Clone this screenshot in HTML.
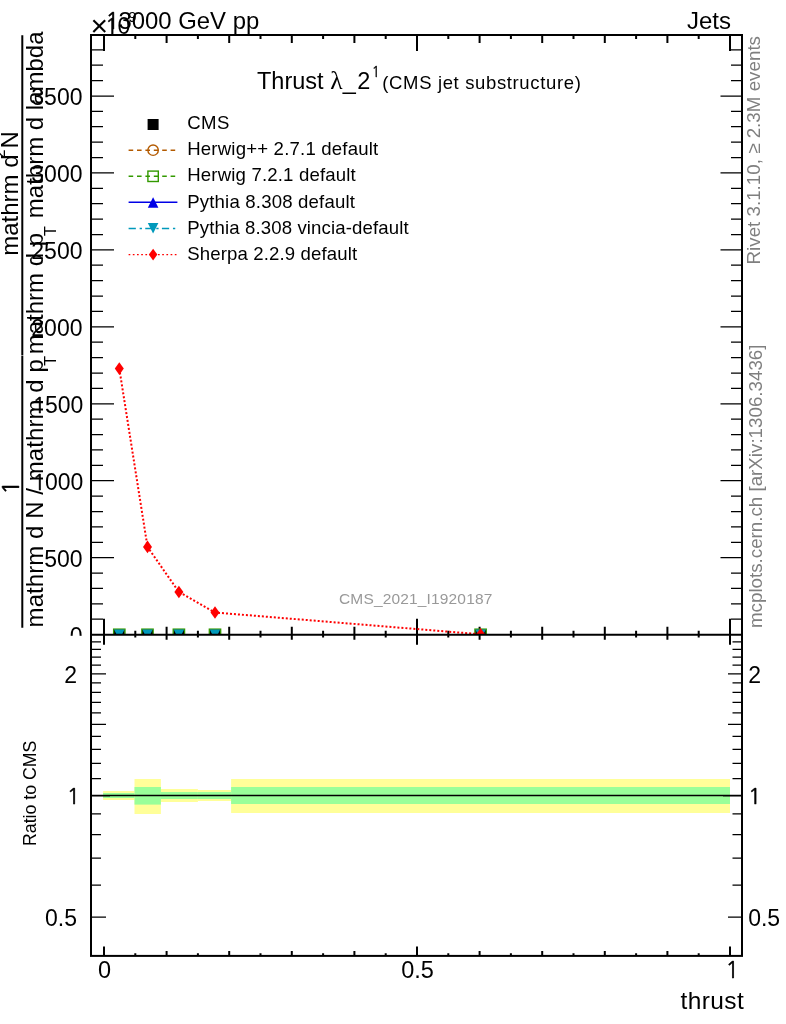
<!DOCTYPE html>
<html lang="en"><head><meta charset="utf-8"><title>Thrust - CMS jet substructure</title>
<style>html,body{margin:0;padding:0;background:#fff}body{width:786px;height:1024px;overflow:hidden}svg{display:block}text{font-family:"Liberation Sans",sans-serif;fill:#000}.g{fill:#7f7f7f}.g2{fill:#999}</style>
</head><body>
<svg width="786" height="1024" viewBox="0 0 786 1024">
<rect x="0" y="0" width="786" height="1024" fill="#fff"/>
<g>
<rect x="103.1" y="791.0" width="31.4" height="9.0" fill="#ffff99"/>
<rect x="134.5" y="779.0" width="26.4" height="35.0" fill="#ffff99"/>
<rect x="160.8" y="789.0" width="37.1" height="13.0" fill="#ffff99"/>
<rect x="197.9" y="790.0" width="33.2" height="11.0" fill="#ffff99"/>
<rect x="231.1" y="779.0" width="498.9" height="34.0" fill="#ffff99"/>
<rect x="103.1" y="793.0" width="31.4" height="5.0" fill="#99ff99"/>
<rect x="134.5" y="787.0" width="26.4" height="17.6" fill="#99ff99"/>
<rect x="160.8" y="792.0" width="37.1" height="7.0" fill="#99ff99"/>
<rect x="197.9" y="792.0" width="33.2" height="7.0" fill="#99ff99"/>
<rect x="231.1" y="787.0" width="498.9" height="17.0" fill="#99ff99"/>
</g>
<path d="M91.0 796.3H110M742.0 796.3H723" stroke="#000" stroke-width="1" stroke-opacity="0.45" fill="none"/>
<line x1="91.0" y1="795.5" x2="742.0" y2="795.5" stroke="#000" stroke-width="1.45"/>
<path d="M104.0 35.0v16M104.0 618.8V644.8M104.0 955.9v-9.5M135.3 35.0v4M135.3 630.8V637.5M135.3 955.9v-2.7M166.6 35.0v8M166.6 626.8V639.8M166.6 955.9v-5M197.9 35.0v4M197.9 630.8V637.5M197.9 955.9v-2.7M229.2 35.0v8M229.2 626.8V639.8M229.2 955.9v-5M260.5 35.0v4M260.5 630.8V637.5M260.5 955.9v-2.7M291.8 35.0v8M291.8 626.8V639.8M291.8 955.9v-5M323.1 35.0v4M323.1 630.8V637.5M323.1 955.9v-2.7M354.4 35.0v8M354.4 626.8V639.8M354.4 955.9v-5M385.7 35.0v4M385.7 630.8V637.5M385.7 955.9v-2.7M417.0 35.0v16M417.0 618.8V644.8M417.0 955.9v-9.5M448.3 35.0v4M448.3 630.8V637.5M448.3 955.9v-2.7M479.6 35.0v8M479.6 626.8V639.8M479.6 955.9v-5M510.9 35.0v4M510.9 630.8V637.5M510.9 955.9v-2.7M542.2 35.0v8M542.2 626.8V639.8M542.2 955.9v-5M573.5 35.0v4M573.5 630.8V637.5M573.5 955.9v-2.7M604.8 35.0v8M604.8 626.8V639.8M604.8 955.9v-5M636.1 35.0v4M636.1 630.8V637.5M636.1 955.9v-2.7M667.4 35.0v8M667.4 626.8V639.8M667.4 955.9v-5M698.7 35.0v4M698.7 630.8V637.5M698.7 955.9v-2.7M730.0 35.0v16M730.0 618.8V644.8M730.0 955.9v-9.5" stroke="#000" stroke-width="2" fill="none"/>
<path d="M91.0 619.2h12M742.0 619.2h-11M91.0 603.8h12M742.0 603.8h-11M91.0 588.4h12M742.0 588.4h-11M91.0 573.0h12M742.0 573.0h-11M91.0 557.6h23M742.0 557.6h-21.5M91.0 542.3h12M742.0 542.3h-11M91.0 526.9h12M742.0 526.9h-11M91.0 511.5h12M742.0 511.5h-11M91.0 496.1h12M742.0 496.1h-11M91.0 480.7h23M742.0 480.7h-21.5M91.0 465.3h12M742.0 465.3h-11M91.0 449.9h12M742.0 449.9h-11M91.0 434.5h12M742.0 434.5h-11M91.0 419.1h12M742.0 419.1h-11M91.0 403.8h23M742.0 403.8h-21.5M91.0 388.4h12M742.0 388.4h-11M91.0 373.0h12M742.0 373.0h-11M91.0 357.6h12M742.0 357.6h-11M91.0 342.2h12M742.0 342.2h-11M91.0 326.8h23M742.0 326.8h-21.5M91.0 311.4h12M742.0 311.4h-11M91.0 296.0h12M742.0 296.0h-11M91.0 280.6h12M742.0 280.6h-11M91.0 265.2h12M742.0 265.2h-11M91.0 249.9h23M742.0 249.9h-21.5M91.0 234.5h12M742.0 234.5h-11M91.0 219.1h12M742.0 219.1h-11M91.0 203.7h12M742.0 203.7h-11M91.0 188.3h12M742.0 188.3h-11M91.0 172.9h23M742.0 172.9h-21.5M91.0 157.5h12M742.0 157.5h-11M91.0 142.1h12M742.0 142.1h-11M91.0 126.7h12M742.0 126.7h-11M91.0 111.3h12M742.0 111.3h-11M91.0 96.0h23M742.0 96.0h-21.5M91.0 80.6h12M742.0 80.6h-11M91.0 65.2h12M742.0 65.2h-11M91.0 49.8h12M742.0 49.8h-11M91.0 917.0h15M742.0 917.0h-14M91.0 885.0h10M742.0 885.0h-9.5M91.0 858.0h10M742.0 858.0h-9.5M91.0 834.5h10M742.0 834.5h-9.5M91.0 813.9h10M742.0 813.9h-9.5M91.0 778.7h10M742.0 778.7h-9.5M91.0 763.4h10M742.0 763.4h-9.5M91.0 749.4h10M742.0 749.4h-9.5M91.0 736.4h10M742.0 736.4h-9.5M91.0 724.3h15M742.0 724.3h-14M91.0 712.9h10M742.0 712.9h-9.5M91.0 702.3h10M742.0 702.3h-9.5M91.0 692.3h10M742.0 692.3h-9.5M91.0 682.8h10M742.0 682.8h-9.5M91.0 673.8h15M742.0 673.8h-14M91.0 665.2h10M742.0 665.2h-9.5M91.0 657.1h10M742.0 657.1h-9.5M91.0 649.3h10M742.0 649.3h-9.5M91.0 641.8h10M742.0 641.8h-9.5" stroke="#000" stroke-width="1.25" fill="none"/>
<clipPath id="cu"><rect x="91.0" y="35.0" width="651.0" height="599.8"/></clipPath>
<g clip-path="url(#cu)">
<rect x="113.8" y="629.3" width="11" height="11" fill="#000"/>
<rect x="113.6" y="629.1" width="11.4" height="11.4" fill="none" stroke="#339900" stroke-width="1.3"/>
<path d="M114.1 629.6H124.5L119.3 640.0Z" fill="#0099bb"/>
<rect x="142.0" y="629.3" width="11" height="11" fill="#000"/>
<rect x="141.8" y="629.1" width="11.4" height="11.4" fill="none" stroke="#339900" stroke-width="1.3"/>
<path d="M142.3 629.6H152.7L147.5 640.0Z" fill="#0099bb"/>
<rect x="173.4" y="629.3" width="11" height="11" fill="#000"/>
<rect x="173.2" y="629.1" width="11.4" height="11.4" fill="none" stroke="#339900" stroke-width="1.3"/>
<path d="M173.7 629.6H184.1L178.9 640.0Z" fill="#0099bb"/>
<rect x="209.5" y="629.3" width="11" height="11" fill="#000"/>
<rect x="209.3" y="629.1" width="11.4" height="11.4" fill="none" stroke="#339900" stroke-width="1.3"/>
<path d="M209.8 629.6H220.2L215.0 640.0Z" fill="#0099bb"/>
<rect x="475.1" y="629.3" width="11" height="11" fill="#000"/>
<rect x="474.9" y="629.1" width="11.4" height="11.4" fill="none" stroke="#339900" stroke-width="1.3"/>
<path d="M475.4 629.6H485.8L480.6 640.0Z" fill="#0099bb"/>
<path d="M119.3 368.6 L147.5 546.9 L178.9 592.0 L215.0 612.5 L480.6 634.3" fill="none" stroke="#f00" stroke-width="2" stroke-dasharray="2 2"/>
<path d="M119.3 362.3L123.8 368.6L119.3 374.9L114.8 368.6Z" fill="#f00"/>
<path d="M147.5 540.6L152.0 546.9L147.5 553.2L143.0 546.9Z" fill="#f00"/>
<path d="M178.9 585.7L183.4 592.0L178.9 598.3L174.4 592.0Z" fill="#f00"/>
<path d="M215.0 606.2L219.5 612.5L215.0 618.8L210.5 612.5Z" fill="#f00"/>
<path d="M480.6 628.0L485.1 634.3L480.6 640.6L476.1 634.3Z" fill="#f00"/>
</g>
<g stroke="#000" fill="none" stroke-width="2"><rect x="91.0" y="35.0" width="651.0" height="920.9"/><line x1="91.0" y1="634.8" x2="742.0" y2="634.8"/></g>
<text font-size="23px" text-anchor="end" x="82.5" y="643.7">0</text>
<text font-size="23px" text-anchor="end" x="82.5" y="566.8">500</text>
<text font-size="23px" text-anchor="end" x="82.5" y="489.8"><tspan font-family="NanumGothic,'Liberation Sans',sans-serif" font-size="21.96px" stroke="#000" stroke-width="0.50" dx="0.90">1</tspan><tspan dx="-0.80">000</tspan></text>
<text font-size="23px" text-anchor="end" x="82.5" y="412.9"><tspan font-family="NanumGothic,'Liberation Sans',sans-serif" font-size="21.96px" stroke="#000" stroke-width="0.50" dx="0.90">1</tspan><tspan dx="-0.80">500</tspan></text>
<text font-size="23px" text-anchor="end" x="82.5" y="335.9">2000</text>
<text font-size="23px" text-anchor="end" x="82.5" y="259.0">2500</text>
<text font-size="23px" text-anchor="end" x="82.5" y="182.0">3000</text>
<text font-size="23px" text-anchor="end" x="82.5" y="105.1">3500</text>
<rect x="0" y="635.8" width="90.0" height="20" fill="#fff"/>
<text font-size="23px" text-anchor="end" x="77" y="682.5">2</text>
<text font-size="23px" x="748.2" y="682.5">2</text>
<text font-size="23px" text-anchor="end" x="79.2" y="804.1"><tspan font-family="NanumGothic,'Liberation Sans',sans-serif" font-size="21.96px" stroke="#000" stroke-width="0.50" dx="0.90">1</tspan></text>
<text font-size="23px" x="747.0" y="804.1"><tspan font-family="NanumGothic,'Liberation Sans',sans-serif" font-size="21.96px" stroke="#000" stroke-width="0.50" dx="0.90">1</tspan></text>
<text font-size="23px" text-anchor="end" x="77" y="925.7">0.5</text>
<text font-size="23px" x="748.2" y="925.7">0.5</text>
<text font-size="23.5px" text-anchor="middle" x="104.5" y="978.2">0</text>
<text font-size="23.5px" text-anchor="middle" x="417.5" y="978.2">0.5</text>
<text font-size="23.5px" text-anchor="middle" x="731.5" y="978.2"><tspan font-family="NanumGothic,'Liberation Sans',sans-serif" font-size="22.44px" stroke="#000" stroke-width="0.51" dx="0.92">1</tspan></text>
<text font-size="23.9px" x="104.5" y="28.7"><tspan font-family="NanumGothic,'Liberation Sans',sans-serif" font-size="22.82px" stroke="#000" stroke-width="0.52" dx="0.94">1</tspan><tspan dx="-0.83">3000 GeV pp</tspan></text>
<text font-size="24px" text-anchor="end" x="731" y="28.7">Jets</text>
<text font-size="30px" x="90.6" y="36.2">×</text>
<text font-size="23px" x="104" y="34.3"><tspan font-family="NanumGothic,'Liberation Sans',sans-serif" font-size="21.96px" stroke="#000" stroke-width="0.50" dx="0.90">1</tspan><tspan dx="-0.80">0</tspan></text>
<text font-size="15px" x="128.2" y="21.8">9</text>
<text font-size="24.5px" textLength="63.3" lengthAdjust="spacing" x="680.5" y="1008.8">thrust</text>
<text font-size="23.5px" x="257" y="88.6">Thrust</text>
<text x="330.2" y="88.8" style="font-family:'Liberation Serif','DejaVu Serif',serif;font-size:25.5px">λ</text>
<text font-size="23.5px" textLength="27.5" lengthAdjust="spacing" x="342.8" y="88.6">_2</text>
<text font-size="14.2px" x="371.3" y="76.5"><tspan font-family="NanumGothic,'Liberation Sans',sans-serif" font-size="13.56px" stroke="#000" stroke-width="0.31" dx="0.56">1</tspan></text>
<text font-size="18.5px" textLength="198.5" lengthAdjust="spacing" x="382.3" y="89.3">(CMS jet substructure)</text>
<text font-size="15.5px" textLength="153.3" lengthAdjust="spacing" class="g2" x="339" y="603.8">CMS_2021_I1920187</text>
<text font-size="18.8px" textLength="228.5" lengthAdjust="spacing" class="g" transform="translate(760.3,264.5) rotate(-90)">Rivet 3.1.10, ≥ 2.3M events</text>
<text font-size="18.8px" textLength="283.5" lengthAdjust="spacing" class="g" transform="translate(761.8,628) rotate(-90)">mcplots.cern.ch [arXiv:1306.3436]</text>
<text font-size="17.8px" textLength="105.5" lengthAdjust="spacing" transform="translate(36.3,846) rotate(-90)">Ratio to CMS</text>
<text font-size="24px" textLength="268.2" lengthAdjust="spacing" transform="translate(43,627.4) rotate(-90)">mathrm d N / mathrm d p</text>
<text font-size="16.3px" transform="translate(55.8,365.8) rotate(-90)">T</text>
<text font-size="24px" transform="translate(18.7,495.5) rotate(-90)"><tspan font-family="NanumGothic,'Liberation Sans',sans-serif" font-size="22.92px" stroke="#000" stroke-width="0.52" dx="0.94">1</tspan></text>
<text font-size="24px" transform="translate(43,354.3) rotate(-90)">mathrm d p</text>
<text font-size="16.3px" transform="translate(55.8,236) rotate(-90)">T</text>
<text font-size="24px" transform="translate(43,218.2) rotate(-90)">mathrm d lambda</text>
<text font-size="24px" transform="translate(17.9,255.8) rotate(-90)">mathrm d</text>
<text font-size="16.3px" transform="translate(4.6,158.5) rotate(-90)">2</text>
<text font-size="24px" transform="translate(17.9,148.6) rotate(-90)">N</text>
<path d="M22.3 627.8V355.4M22.3 355V35.2" stroke="#000" stroke-width="2" fill="none"/>
<rect x="147.6" y="119.0" width="11" height="11" fill="#000"/>
<line x1="128.6" y1="150.2" x2="177.4" y2="150.2" stroke="#b35a00" stroke-width="1.4" stroke-dasharray="4.6 3.8"/><circle cx="153.1" cy="150.2" r="5.2" fill="none" stroke="#b35a00" stroke-width="1.4"/>
<line x1="128.6" y1="176.2" x2="177.4" y2="176.2" stroke="#339900" stroke-width="1.4" stroke-dasharray="4.6 3.8"/><rect x="147.9" y="171.1" width="10.4" height="10.4" fill="none" stroke="#339900" stroke-width="1.4"/>
<line x1="128.6" y1="202.2" x2="177.4" y2="202.2" stroke="#0000e6" stroke-width="1.4"/><path d="M147.79999999999998 207.79999999999998H158.4L153.1 197.2Z" fill="#0000e6"/>
<line x1="128.6" y1="228.5" x2="177.4" y2="228.5" stroke="#0099bb" stroke-width="1.4" stroke-dasharray="7.25 3.8 2.3 3.3"/><path d="M147.79999999999998 223.1H158.4L153.1 233.4Z" fill="#0099bb"/>
<line x1="128.6" y1="254.6" x2="177.4" y2="254.6" stroke="#f00" stroke-width="1.4" stroke-dasharray="1.7 2.5"/><path d="M153.1 248.79999999999998L157.4 254.6L153.1 260.4L148.79999999999998 254.6Z" fill="#f00"/>
<text font-size="18.6px" textLength="42.3" lengthAdjust="spacing" x="187.2" y="129.2">CMS</text>
<text font-size="18.6px" textLength="191" lengthAdjust="spacing" x="187.2" y="155.3">Herwig++ 2.7.1 default</text>
<text font-size="18.6px" textLength="168.5" lengthAdjust="spacing" x="187.2" y="181.4">Herwig 7.2.1 default</text>
<text font-size="18.6px" textLength="167.8" lengthAdjust="spacing" x="187.2" y="207.5">Pythia 8.308 default</text>
<text font-size="18.6px" textLength="221.5" lengthAdjust="spacing" x="187.2" y="233.6">Pythia 8.308 vincia-default</text>
<text font-size="18.6px" textLength="170" lengthAdjust="spacing" x="187.2" y="259.7">Sherpa 2.2.9 default</text>
</svg></body></html>
